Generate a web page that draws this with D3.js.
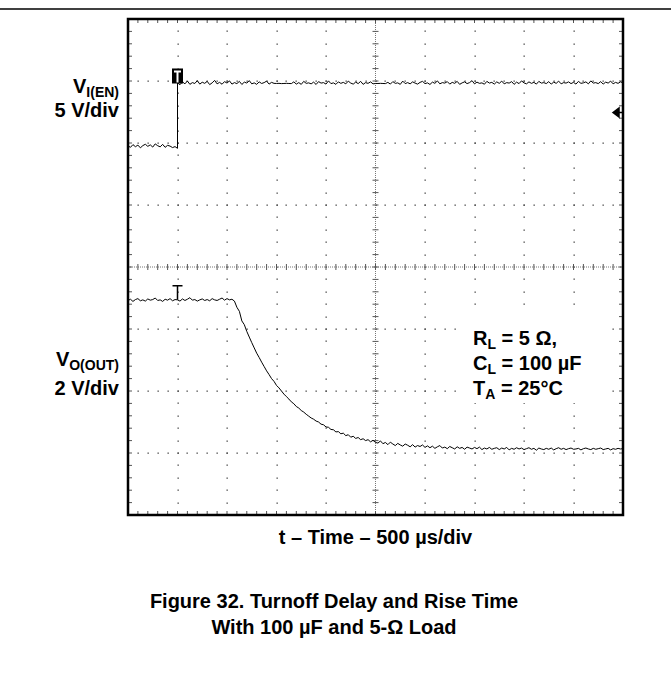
<!DOCTYPE html>
<meta charset="utf-8">
<style>
body { margin: 0; background: #fff; }
svg { display: block; font-family: "Liberation Sans", Arial, sans-serif; font-weight: bold; }
.trace { fill: none; stroke: #000; stroke-width: 1; stroke-linejoin: round; }
.dot { fill: #444; }
.center { stroke: #777; stroke-width: 1; stroke-dasharray: 1,1; }
.tick { stroke: #555; stroke-width: 1; }
.frame { fill: none; stroke: #000; stroke-width: 2.5; }
</style>
<body>
<script src="https://d3js.org/d3.v7.min.js"></script>
<script>

// scope sample times, microseconds (10 div x 500 us), one every 25 us
var sampleTimes = d3.range(0, 5001, 25)
var triggerTime = 500

// V_I(EN), volts : before the edge (0..500 us) and after it (500..5000 us)
var enLow = [0.02, -0.10, 0.12, -0.05, 0.08, -0.14, 0.04, 0.15, -0.02, 0.10,
    -0.08, 0.18, 0.03, -0.06, 0.14, -0.10, 0.06, 0.00, -0.12, -0.04, -0.18]
var enHigh = [
    5.10, 4.95, 5.18, 5.02, 5.25, 4.98, 5.12, 5.05, 5.28, 5.00,
    5.15, 5.06, 5.22, 4.96, 5.10, 5.30, 5.02, 5.14, 4.99, 5.20,
    5.08, 5.26, 5.00, 5.12, 5.04, 5.22, 4.97, 5.16, 5.08, 5.28,
    5.02, 5.10, 4.98, 5.18, 5.05, 5.12, 5.24, 5.00, 5.14, 5.06,
    5.05, 5.06, 5.04, 5.05, 5.06, 5.05, 5.04, 5.18, 5.00, 5.12,
    4.98, 5.22, 5.06, 5.10, 5.02, 5.16, 4.97, 5.20, 5.08, 5.12,
    5.00, 5.26, 5.04, 5.10, 4.98, 5.18, 5.06, 5.14, 5.02, 5.24,
    5.08, 5.00, 5.16, 5.04, 5.22, 4.98, 5.12, 5.06, 5.18, 5.02,
    5.05, 5.05, 5.06, 5.05, 5.04, 5.14, 5.00, 5.20, 5.06, 5.10,
    4.98, 5.24, 5.04, 5.12, 5.02, 5.18, 5.08, 5.00, 5.14, 5.22,
    5.04, 5.10, 4.97, 5.16, 5.06, 5.26, 5.02, 5.12, 5.08, 5.20,
    5.00, 5.14, 5.06, 5.22, 4.98, 5.10, 5.18, 5.04, 5.12, 5.28,
    5.02, 5.16, 5.06, 5.10, 4.99, 5.22, 5.08, 5.14, 5.00, 5.18,
    5.06, 5.24, 5.02, 5.12, 5.08, 5.20, 4.98, 5.16, 5.04, 5.26,
    5.10, 5.02, 5.18, 5.06, 5.14, 5.00, 5.22, 5.08, 5.12, 5.04,
    5.20, 5.00, 5.16, 5.06, 5.24, 5.02, 5.12, 5.08, 5.18, 5.04,
    5.14, 5.00, 5.22, 5.06, 5.10, 5.18, 5.02, 5.26, 5.08, 5.12,
    5.04, 5.20, 5.00, 5.16, 5.08, 5.24, 5.02, 5.14, 5.06, 5.18,
    5.10
]

// V_O(OUT), volts, one value per sample time
var outVolts = [
    // flat, 0..1050 us
    4.82, 4.86, 4.79, 4.85, 4.88, 4.81, 4.84, 4.80, 4.87, 4.83,
    4.85, 4.90, 4.82, 4.84, 4.79, 4.86, 4.83, 4.88, 4.81, 4.85,
    4.84, 4.80, 4.87, 4.82, 4.86, 4.91, 4.83, 4.85, 4.80, 4.84,
    4.87, 4.82, 4.85, 4.81, 4.88, 4.84, 4.82, 4.86, 4.90, 4.83,
    4.88, 4.84, 4.86,
    // fall, 1075..2500 us
    4.80, 4.60, 4.47, 4.16, 4.04, 3.82, 3.64, 3.46, 3.29, 3.12,
    2.98, 2.83, 2.69, 2.55, 2.43, 2.30, 2.21, 2.08, 2.00, 1.90,
    1.80, 1.72, 1.64, 1.55, 1.49, 1.40, 1.35, 1.27, 1.22, 1.15,
    1.09, 1.03, 0.99, 0.93, 0.90, 0.83, 0.81, 0.74, 0.73, 0.66,
    0.65, 0.58, 0.59, 0.52, 0.54, 0.46, 0.49, 0.41, 0.44, 0.37,
    0.40, 0.33, 0.36, 0.30, 0.33, 0.26, 0.31, 0.24,
    // tail, 2525..5000 us
    0.22, 0.29, 0.20, 0.24, 0.17, 0.25, 0.19, 0.14, 0.21, 0.16,
    0.12, 0.19, 0.15, 0.10, 0.17, 0.09, 0.14, 0.11, 0.16, 0.08,
    0.13, 0.07, 0.12, 0.05, 0.10, 0.14, 0.06, 0.09, 0.04, 0.11,
    0.07, 0.03, 0.10, 0.05, 0.08, 0.02, 0.09, 0.06, 0.03, 0.08,
    0.04, 0.09, 0.01, 0.06, 0.03, 0.08, 0.02, 0.05, 0.07, 0.01,
    0.06, 0.03, 0.08, 0.00, 0.05, 0.02, 0.07, 0.03, 0.06, 0.01,
    0.04, 0.07, 0.02, 0.05, -0.01, 0.06, 0.03, 0.01, 0.05, 0.02,
    0.06, 0.00, 0.04, 0.07, 0.02, 0.05, 0.01, 0.04, 0.06, 0.02,
    0.03, 0.05, 0.00, 0.04, 0.06, 0.03, 0.01, 0.05, 0.02, 0.04,
    0.06, 0.01, 0.03, 0.05, 0.00, 0.04, 0.02, 0.05, 0.03, 0.04
]

var enVoltsPerDiv = 5
var outVoltsPerDiv = 2
var triggerLevel = 2.7   // V on the EN channel (arrow at right)

var channelNames = [["V", "I(EN)"], ["V", "O(OUT)"]]
var channelScales = ["5 V/div", "2 V/div"]
var conditions = [["R", "L", " = 5 \u03A9,"], ["C", "L", " = 100 \u00B5F"], ["T", "A", " = 25\u00B0C"]]
var xTitle = "t \u2013 Time \u2013 500 \u00B5s/div"
var caption = ["Figure 32. Turnoff Delay and Rise Time", "With 100 \u00B5F and 5-\u03A9 Load"]

// ---------------- layout ----------------

var width = 671
var height = 673
var pLeft = 128, pRight = 623, pTop = 19, pBottom = 515

var svg = d3.select('body').append('svg')
    .attr('width', width)
    .attr('height', height)

var x = d3.scaleLinear().domain([0, 5000]).range([pLeft, pRight])
var yDiv = d3.scaleLinear().domain([-4, 4]).range([pBottom, pTop])

// ground position of each channel, in divisions from centre
var enZero = 1.95
var outZero = -2.95
function yEn(v) { return yDiv(enZero + v / enVoltsPerDiv) }
function yOut(v) { return yDiv(outZero + v / outVoltsPerDiv) }

// rule across the top of the page
svg.append('line')
    .attr('x1', 0).attr('x2', width)
    .attr('y1', 9).attr('y2', 9)
    .attr('stroke', '#000').attr('stroke-width', 1.6)

// ---------------- graticule ----------------
var grid = svg.append('g')

var minorT = d3.range(100, 4901, 100)
var minorD = d3.range(-3.8, 3.81, 0.2)
var majorT = [500, 1000, 1500, 2000, 3000, 3500, 4000, 4500]
var majorD = [-3, -2, -1, 1, 2, 3]

majorT.forEach(function (t) {
    grid.selectAll(null)
        .data(minorD)
        .enter().append('rect')
        .attr('class', 'dot')
        .attr('x', Math.round(x(t)) - 0.5)
        .attr('y', function (d) { return Math.round(yDiv(d)) - 0.5 })
        .attr('width', 1.3).attr('height', 1.3)
})

majorD.forEach(function (d) {
    grid.selectAll(null)
        .data(minorT)
        .enter().append('rect')
        .attr('class', 'dot')
        .attr('x', function (t) { return Math.round(x(t)) - 0.5 })
        .attr('y', Math.round(yDiv(d)) - 0.5)
        .attr('width', 1.3).attr('height', 1.3)
})

// centre cross with its small ticks
grid.append('line').attr('class', 'center')
    .attr('x1', pLeft).attr('x2', pRight)
    .attr('y1', yDiv(0)).attr('y2', yDiv(0))
grid.append('line').attr('class', 'center')
    .attr('x1', x(2500)).attr('x2', x(2500))
    .attr('y1', pTop).attr('y2', pBottom)

grid.selectAll(null)
    .data(minorT)
    .enter().append('line')
    .attr('class', 'tick')
    .attr('x1', function (t) { return x(t) }).attr('x2', function (t) { return x(t) })
    .attr('y1', yDiv(0) - 3).attr('y2', yDiv(0) + 3)

grid.selectAll(null)
    .data(minorD)
    .enter().append('line')
    .attr('class', 'tick')
    .attr('x1', x(2500) - 3).attr('x2', x(2500) + 3)
    .attr('y1', function (d) { return yDiv(d) }).attr('y2', function (d) { return yDiv(d) })

// ticks on the inside of the frame
grid.selectAll(null)
    .data(minorT)
    .enter().append('line')
    .attr('class', 'tick')
    .attr('x1', function (t) { return x(t) }).attr('x2', function (t) { return x(t) })
    .attr('y1', pTop).attr('y2', pTop + 4)
grid.selectAll(null)
    .data(minorT)
    .enter().append('line')
    .attr('class', 'tick')
    .attr('x1', function (t) { return x(t) }).attr('x2', function (t) { return x(t) })
    .attr('y1', pBottom - 4).attr('y2', pBottom)
grid.selectAll(null)
    .data(minorD)
    .enter().append('line')
    .attr('class', 'tick')
    .attr('x1', pLeft).attr('x2', pLeft + 4)
    .attr('y1', function (d) { return yDiv(d) }).attr('y2', function (d) { return yDiv(d) })
grid.selectAll(null)
    .data(minorD)
    .enter().append('line')
    .attr('class', 'tick')
    .attr('x1', pRight - 4).attr('x2', pRight)
    .attr('y1', function (d) { return yDiv(d) }).attr('y2', function (d) { return yDiv(d) })

// white box behind the test conditions
svg.append('rect')
    .attr('x', 460).attr('y', 315)
    .attr('width', 146).attr('height', 88)
    .attr('fill', '#fff')

// ---------------- traces ----------------
var enPoints = enLow.map(function (v, i) { return [sampleTimes[i], v] })
    .concat(enHigh.map(function (v, i) { return [sampleTimes[i + 20], v] }))
var outPoints = outVolts.map(function (v, i) { return [sampleTimes[i], v] })

svg.append('path')
    .attr('class', 'trace')
    .attr('d', d3.line()
        .x(function (d) { return x(d[0]) })
        .y(function (d) { return yEn(d[1]) })(enPoints))

svg.append('path')
    .attr('class', 'trace')
    .attr('d', d3.line()
        .x(function (d) { return x(d[0]) })
        .y(function (d) { return yOut(d[1]) })(outPoints))

// trigger marks
var tx = x(triggerTime)
var enTop = yEn(5.05)
svg.append('rect')
    .attr('x', tx - 5.5).attr('y', enTop - 15)
    .attr('width', 11).attr('height', 15)
    .attr('fill', '#000')
svg.append('path')
    .attr('d', 'M' + (tx - 3.5) + ',' + (enTop - 12) + 'h7 M' + tx + ',' + (enTop - 12) + 'v11')
    .attr('stroke', '#fff').attr('stroke-width', 2).attr('fill', 'none')

var outTop = yOut(outVolts[20])
svg.append('path')
    .attr('d', 'M' + (tx - 5) + ',' + (outTop - 14) + 'h10 M' + tx + ',' + (outTop - 14) + 'v14')
    .attr('stroke', '#000').attr('stroke-width', 1.5).attr('fill', 'none')

// trigger level arrow on the right edge
var ty = yEn(triggerLevel)
svg.append('path')
    .attr('d', 'M' + (pRight - 10) + ',' + ty + 'l6,-4.5v9z M' + (pRight - 5) + ',' + ty + 'H' + pRight)
    .attr('fill', '#000').attr('stroke', '#000').attr('stroke-width', 1.5)

// frame
svg.append('rect')
    .attr('class', 'frame')
    .attr('x', pLeft).attr('y', pTop)
    .attr('width', pRight - pLeft).attr('height', pBottom - pTop)

// ---------------- text ----------------
function subText(sel, parts, sub) {
    sel.append('tspan').text(parts[0])
    sel.append('tspan').attr('font-size', sub).attr('dy', 4).text(parts[1])
    if (parts[2]) sel.append('tspan').attr('dy', -4).text(parts[2])
}

var labelY = [[93, 117], [366, 395]]
channelNames.forEach(function (n, i) {
    var t = svg.append('text')
        .attr('x', 119).attr('y', labelY[i][0])
        .attr('text-anchor', 'end')
        .attr('font-size', 20)
    subText(t, n, 14)
    svg.append('text')
        .attr('x', 119).attr('y', labelY[i][1])
        .attr('text-anchor', 'end')
        .attr('font-size', 20)
        .text(channelScales[i])
})

conditions.forEach(function (c, i) {
    var t = svg.append('text')
        .attr('x', 473).attr('y', 345 + i * 25)
        .attr('font-size', 20)
    subText(t, c, 14)
})

svg.append('text')
    .attr('x', (pLeft + pRight) / 2).attr('y', 544)
    .attr('text-anchor', 'middle')
    .attr('font-size', 20)
    .text(xTitle)

caption.forEach(function (c, i) {
    svg.append('text')
        .attr('x', 334).attr('y', 608 + i * 26)
        .attr('text-anchor', 'middle')
        .attr('font-size', 20)
        .text(c)
})

</script>
</body>
